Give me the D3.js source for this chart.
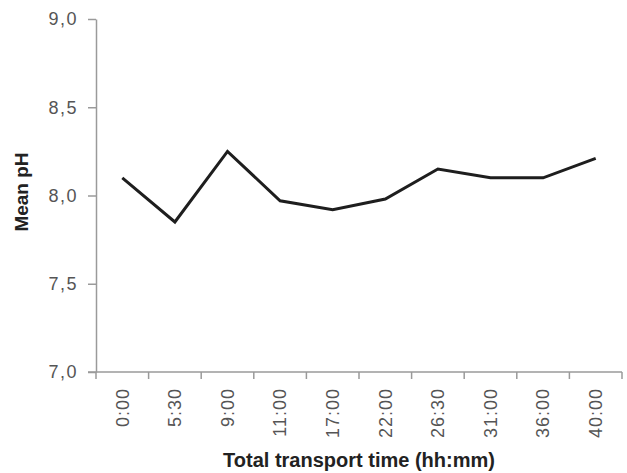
<!DOCTYPE html>
<html><head><meta charset="utf-8">
<script src="https://cdn.jsdelivr.net/npm/d3@7"></script>
<style>body{margin:0;background:#fff}</style>
</head><body>
<svg id="c" width="627" height="473"></svg>
<script>
const categories = ["0:00","5:30","9:00","11:00","17:00","22:00","26:30","31:00","36:00","40:00"];
const meanPH = [8.10, 7.85, 8.25, 7.97, 7.92, 7.98, 8.15, 8.10, 8.10, 8.21];
const yTicks = [7.0, 7.5, 8.0, 8.5, 9.0];

(function(){
const svg = d3.select("#c");
const mL = 96, mR = 622, mT = 19, mB = 372;
const x = d3.scaleBand().domain(categories).range([mL, mR]);
const y = d3.scaleLinear().domain([7, 9]).range([mB, mT]);
const axisColor = "#9a9a9a";
const fmt = d => d3.format(".1f")(d).replace(".", ",");

// y axis
const ya = svg.append("g").attr("transform", `translate(${mL},0)`)
  .call(d3.axisLeft(y).tickValues(yTicks).tickSize(8).tickSizeOuter(0).tickFormat(fmt).tickPadding(10));
ya.select(".domain").attr("stroke", axisColor).attr("stroke-width", 1.5);
ya.selectAll(".tick line").attr("stroke", axisColor).attr("stroke-width", 1.5);
ya.selectAll(".tick text").attr("fill", "#555").attr("font-family", "Liberation Sans, Arial, sans-serif")
  .attr("font-size", 18).attr("letter-spacing", 1.5);

// x axis
const xa = svg.append("g").attr("transform", `translate(0,${mB})`)
  .call(d3.axisBottom(x).tickSize(0).tickSizeOuter(0));
xa.select(".domain").attr("stroke", axisColor).attr("stroke-width", 1.5)
  .attr("d", `M${mL-8},0H${mR}`);
const bounds = categories.map(c => x(c)).concat([mR]);
xa.selectAll(".bt").data(bounds).enter().append("line").attr("class","bt")
  .attr("x1", d => d).attr("x2", d => d).attr("y1", 0).attr("y2", 7)
  .attr("stroke", axisColor).attr("stroke-width", 1.5);
xa.selectAll(".tick text")
  .attr("fill", "#555").attr("font-family", "Liberation Sans, Arial, sans-serif")
  .attr("font-size", 18).attr("letter-spacing", 1)
  .attr("text-anchor", "end").attr("dy", "0.35em")
  .attr("transform", "translate(0,16) rotate(-90)").attr("y", 0).attr("x", 0);

// line
const line = d3.line().x((d, i) => x(categories[i]) + x.bandwidth() / 2).y(d => y(d));
svg.append("path").datum(meanPH).attr("d", line).attr("fill", "none")
  .attr("stroke", "#1e1e1e").attr("stroke-width", 3).attr("stroke-linejoin", "miter");

// titles
svg.append("text").attr("x", 359).attr("y", 467).attr("text-anchor", "middle")
  .attr("font-family", "Liberation Sans, Arial, sans-serif").attr("font-weight", "bold")
  .attr("font-size", 20).attr("fill", "#222").text("Total transport time (hh:mm)");
svg.append("text").attr("transform", "translate(28,192) rotate(-90)").attr("text-anchor", "middle")
  .attr("font-family", "Liberation Sans, Arial, sans-serif").attr("font-weight", "bold")
  .attr("font-size", 19).attr("fill", "#222").text("Mean pH");
})();
</script>
</body></html>
